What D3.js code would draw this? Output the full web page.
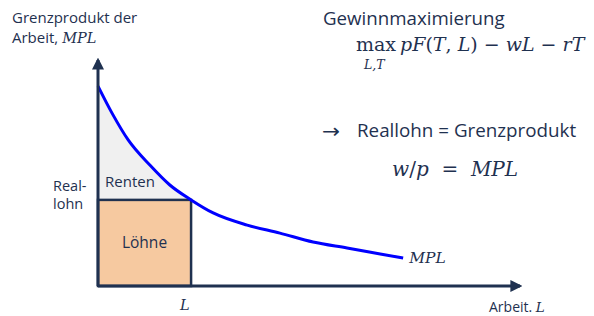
<!DOCTYPE html>
<html>
<head>
<meta charset="utf-8">
<script src="https://cdn.jsdelivr.net/npm/d3@7"></script>
<style>
  body { margin: 0; background: #fff; }
  svg text { font-family: "Open Sans", sans-serif; fill: #1f3150; }
  .math { font-family: "DejaVu Serif", serif; font-style: italic; }
</style>
</head>
<body>
<div id="chart"></div>
<script>
// MPL curve (labour L, marginal product MPL)
var laborL = [0, 3.3, 7.1, 12.2, 16.9, 21.9, 27.1, 35.1, 42.8, 50.6, 58.6, 66.4, 71.8];
var mplValues = [87.3, 75.5, 63.8, 52.8, 44.1, 37.6, 31.9, 26.6, 23.1, 19.2, 16.6, 14.0, 12.2];
var chosenL = 21.9;
var realWage = 37.6;

var width = 594, height = 316;
var ink = "#1f3150";

var svg = d3.select("#chart").append("svg")
    .attr("width", width)
    .attr("height", height);

var x = d3.scaleLinear().domain([0, 100]).range([98, 523]);
var y = d3.scaleLinear().domain([0, 100]).range([286, 57]);

var defs = svg.append("defs");
defs.append("marker")
    .attr("id", "arrow")
    .attr("viewBox", "0 0 10 10")
    .attr("refX", 8).attr("refY", 5)
    .attr("markerWidth", 4).attr("markerHeight", 4)
    .attr("orient", "auto")
    .append("path")
    .attr("d", "M0,0 L10,5 L0,10 z")
    .attr("fill", ink);

var pts = laborL.map(function (d, i) { return { L: d, mpl: mplValues[i] }; });

// Renten (area between curve and wage line)
var rentPts = pts.filter(function (d) { return d.L <= chosenL; });
svg.append("path")
    .datum(rentPts)
    .attr("d", d3.area()
        .x(function (d) { return x(d.L); })
        .y0(y(realWage))
        .y1(function (d) { return y(d.mpl); })
        .curve(d3.curveMonotoneX))
    .attr("fill", "#f0f0f0");

// Löhne box
svg.append("rect")
    .attr("x", x(0))
    .attr("y", y(realWage))
    .attr("width", x(chosenL) - x(0))
    .attr("height", y(0) - y(realWage))
    .attr("fill", "#f6c9a0")
    .attr("stroke", ink)
    .attr("stroke-width", 2.5);

// MPL curve
svg.append("path")
    .datum(pts)
    .attr("d", d3.line()
        .x(function (d) { return x(d.L); })
        .y(function (d) { return y(d.mpl); })
        .curve(d3.curveMonotoneX))
    .attr("fill", "none")
    .attr("stroke", "#0000ff")
    .attr("stroke-width", 3);

// axes
svg.append("line")
    .attr("x1", x(0)).attr("y1", y(0))
    .attr("x2", x(0)).attr("y2", y(100) + 3)
    .attr("stroke", ink).attr("stroke-width", 3)
    .attr("marker-end", "url(#arrow)");
svg.append("line")
    .attr("x1", x(0)).attr("y1", y(0))
    .attr("x2", x(100) - 3).attr("y2", y(0))
    .attr("stroke", ink).attr("stroke-width", 3)
    .attr("marker-end", "url(#arrow)");

// labels around the chart
var yl = svg.append("text").attr("x", 12).attr("y", 23).style("font-size", "15px");
yl.append("tspan").text("Grenzprodukt der");
var yl2 = svg.append("text").attr("x", 12).attr("y", 43).style("font-size", "15px");
yl2.append("tspan").text("Arbeit, ");
yl2.append("tspan").attr("class", "math").style("font-size", "14.5px").text("MPL");

svg.append("text").attr("x", 53).attr("y", 191).style("font-size", "14.5px").text("Real-");
svg.append("text").attr("x", 53).attr("y", 209).style("font-size", "14.5px").text("lohn");

svg.append("text").attr("x", 105).attr("y", 187).style("font-size", "15px").text("Renten");
svg.append("text")
    .attr("x", (x(0) + x(chosenL)) / 2).attr("y", 248)
    .attr("text-anchor", "middle").style("font-size", "15.5px").text("Löhne");

svg.append("text").attr("class", "math")
    .attr("x", x(chosenL) - 11).attr("y", 310)
    .style("font-size", "14.5px").text("L");

svg.append("text").attr("class", "math")
    .attr("x", x(laborL[laborL.length - 1]) + 6).attr("y", 263)
    .style("font-size", "15.5px").text("MPL");

var xl = svg.append("text").attr("x", 489).attr("y", 312).style("font-size", "14px");
xl.append("tspan").text("Arbeit. ");
xl.append("tspan").attr("class", "math").style("font-size", "13.5px").text("L");

// right-hand text
svg.append("text").attr("x", 323).attr("y", 25).style("font-size", "18.7px").text("Gewinnmaximierung");

var f = svg.append("text").attr("class", "math").attr("x", 356).attr("y", 51).style("font-size", "19px");
f.append("tspan").style("font-style", "normal").text("max");
f.append("tspan").attr("dx", 4).text("pF");
f.append("tspan").style("font-style", "normal").text("(");
f.append("tspan").text("T");
f.append("tspan").style("font-style", "normal").text(", ");
f.append("tspan").text("L");
f.append("tspan").style("font-style", "normal").text(") − ");
f.append("tspan").text("wL");
f.append("tspan").style("font-style", "normal").text(" − ");
f.append("tspan").text("rT");
svg.append("text").attr("class", "math").attr("x", 364).attr("y", 69)
    .style("font-size", "12.5px").text("L,T");

svg.append("text").attr("x", 322).attr("y", 138)
    .style("font-family", "'DejaVu Sans', sans-serif").style("font-size", "20px")
    .attr("textLength", 18).attr("lengthAdjust", "spacingAndGlyphs").text("→");
svg.append("text").attr("x", 357).attr("y", 137).style("font-size", "18.8px").text("Reallohn = Grenzprodukt");

var g = svg.append("text").attr("class", "math").attr("x", 392).attr("y", 176).style("font-size", "20px");
g.append("tspan").text("w");
g.append("tspan").style("font-style", "normal").text("/");
g.append("tspan").text("p");
g.append("tspan").style("font-style", "normal").attr("xml:space", "preserve").text("  =  ");
g.append("tspan").text("MPL");
</script>
</body>
</html>
